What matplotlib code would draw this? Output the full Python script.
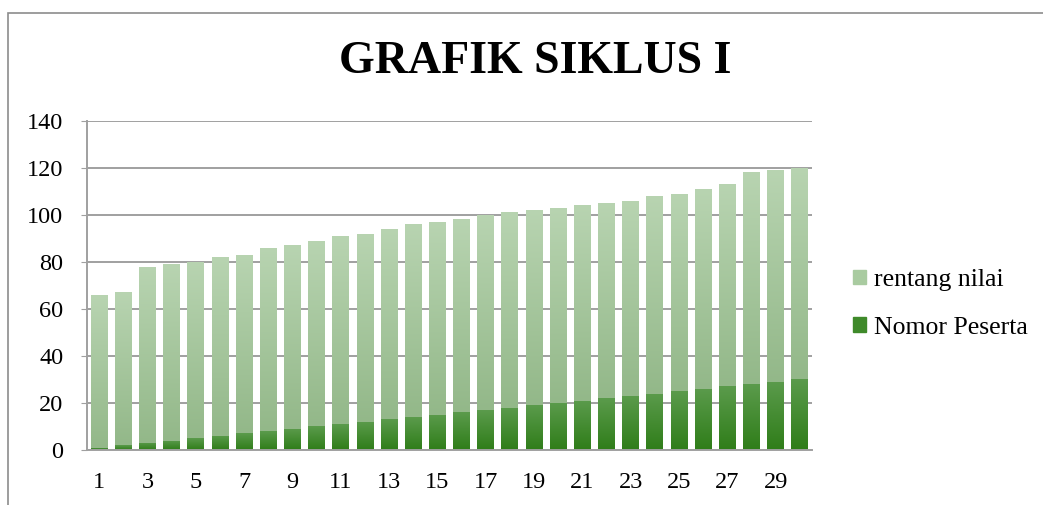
import matplotlib
matplotlib.use('Agg')
import matplotlib.pyplot as plt
import numpy as np
from matplotlib.colors import LinearSegmentedColormap
from matplotlib.patches import Rectangle

# data
nomor_peserta = list(range(1, 31))
total = [66, 67, 78, 79, 80, 82, 83, 86, 87, 89, 91, 92, 94, 96, 97,
         98, 100, 101, 102, 103, 104, 105, 106, 108, 109, 111, 113, 118, 119, 120]
rentang_nilai = [t - n for t, n in zip(total, nomor_peserta)]
x_labels = [str(i) if i % 2 == 1 else '' for i in nomor_peserta]

plt.rcParams['font.family'] = ['Liberation Serif', 'DejaVu Serif']

fig = plt.figure(figsize=(10.43, 5.05), dpi=100)
ax = fig.add_axes([0.0834, 0.109, 0.695, 0.652])

x = np.arange(1, 31)
w = 0.69
bars_nomor = ax.bar(x, nomor_peserta, width=w, color='#3f8a2a', label='Nomor Peserta', zorder=2)
bars_rentang = ax.bar(x, rentang_nilai, width=w, bottom=nomor_peserta, color='#a9cba0',
                      label='rentang nilai', zorder=2)

# gradient fill like Excel
grad = np.linspace(1, 0, 256).reshape(-1, 1)
cm_light = LinearSegmentedColormap.from_list('l', ['#93b889', '#b8d4b1'])
cm_dark = LinearSegmentedColormap.from_list('d', ['#2f7d19', '#5b9b4c'])
for bars, cm in [(bars_rentang, cm_light), (bars_nomor, cm_dark)]:
    for b in bars:
        x0, y0 = b.get_x(), b.get_y()
        bw, bh = b.get_width(), b.get_height()
        im = ax.imshow(grad, cmap=cm, aspect='auto', extent=[x0, x0 + bw, y0, y0 + bh],
                       zorder=2.5, vmin=0, vmax=1)
        im.set_clip_path(b)
        b.set_facecolor('none')
        b.set_edgecolor('none')

ax.set_xlim(0.5, 30.5)
ax.set_ylim(0, 140)
ax.set_yticks(range(0, 141, 20))
ax.set_xticks(x)
ax.set_xticklabels(x_labels)
ax.yaxis.grid(True, color='#a0a0a0', linewidth=1.4, zorder=1)
ax.set_axisbelow(True)
for s in ['top', 'right']:
    ax.spines[s].set_visible(False)
ax.spines['left'].set_color('#a0a0a0')
ax.spines['bottom'].set_color('#a0a0a0')
ax.spines['left'].set_linewidth(1.4)
ax.spines['bottom'].set_linewidth(1.4)
ax.tick_params(axis='y', length=4, color='#a0a0a0', labelsize=17.5, pad=13)
ax.tick_params(axis='x', length=0, labelsize=17.5, pad=16)

handles = [Rectangle((0, 0), 1, 1, color='#a9cba0'), Rectangle((0, 0), 1, 1, color='#3f8a2a')]
fig.legend(handles, ['rentang nilai', 'Nomor Peserta'], loc='center left',
           bbox_to_anchor=(0.818, 0.398), frameon=False, fontsize=18.5,
           handlelength=0.5, handleheight=0.5, handletextpad=0.3, labelspacing=1.0,
           borderaxespad=0, borderpad=0)

fig.text(0.513, 0.877, 'GRAFIK SIKLUS I', ha='center', va='center', fontsize=33, fontweight='bold')

# chart area border
fig.add_artist(Rectangle((0.0077, -0.05), 1.2, 1.0242, transform=fig.transFigure,
                         fill=False, edgecolor='#8c8c8c', linewidth=1.2))

fig.savefig('out.png', dpi=100)
